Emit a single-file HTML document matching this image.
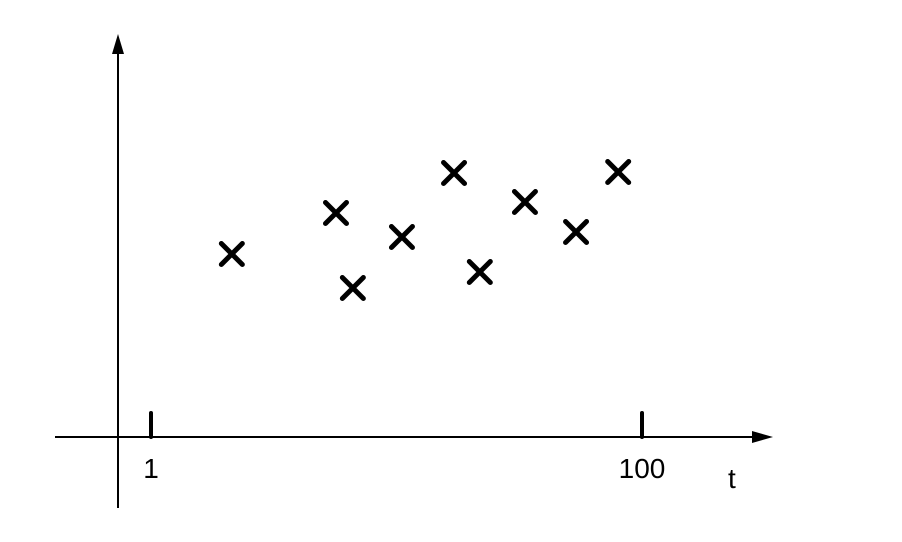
<!DOCTYPE html>
<html><head><meta charset="utf-8"><style>
html,body{margin:0;padding:0;background:#fff;}
svg{display:block;}
text{font-family:"Liberation Sans",Arial,sans-serif;font-size:28px;fill:#000;}
</style></head><body>
<svg id="chart" width="902" height="542" viewBox="0 0 902 542">
  <line x1="118" y1="508" x2="118" y2="50" stroke="#000" stroke-width="2"/>
  <polygon points="118,34 112,54 124,54" fill="#000"/>
  <line x1="55" y1="437" x2="756" y2="437" stroke="#000" stroke-width="2"/>
  <polygon points="773,437 752,431 752,443" fill="#000"/>
  <text x="728" y="488">t</text>
  <g id="ticks"></g>
  <g id="points"></g>
</svg>
<script>
const tickValues = [1, 100];
const tickLabels = ["1", "100"];
const tValues = [17.3, 38.3, 41.7, 51.6, 62.1, 67.3, 76.4, 86.7, 95.2];
const yValues = [183, 224, 149, 200, 264, 165, 235, 205, 265];

const NS = "http://www.w3.org/2000/svg";
function xScale(t){ return 151 + (t - 1) * (491 / 99); }
function yScale(v){ return 437 - v; }

const tg = document.getElementById('ticks');
tickValues.forEach((t, i) => {
  const x = xScale(t);
  const l = document.createElementNS(NS, 'line');
  
  
  l.setAttribute('x1', x); l.setAttribute('x2', x);
  l.setAttribute('y1', 413); l.setAttribute('y2', 437);
  l.setAttribute('stroke', '#000'); l.setAttribute('stroke-width', 4);
  l.setAttribute('stroke-linecap', 'round');
  tg.appendChild(l);
  const tx = document.createElementNS(NS, 'text');
  
  
  tx.setAttribute('x', x); tx.setAttribute('y', 478);
  tx.setAttribute('text-anchor', 'middle');
  tx.textContent = tickLabels[i];
  tg.appendChild(tx);
});

const pg = document.getElementById('points');
tValues.forEach((t, i) => {
  const cx = xScale(t), cy = yScale(yValues[i]), r = 10.5;
  const p = document.createElementNS(NS, 'path');
  
  
  p.setAttribute('d', `M${cx-r},${cy-r}L${cx+r},${cy+r}M${cx+r},${cy-r}L${cx-r},${cy+r}`);
  p.setAttribute('stroke', '#000'); p.setAttribute('stroke-width', 5);
  p.setAttribute('stroke-linecap', 'round'); p.setAttribute('fill', 'none');
  pg.appendChild(p);
});
</script>
</body></html>
